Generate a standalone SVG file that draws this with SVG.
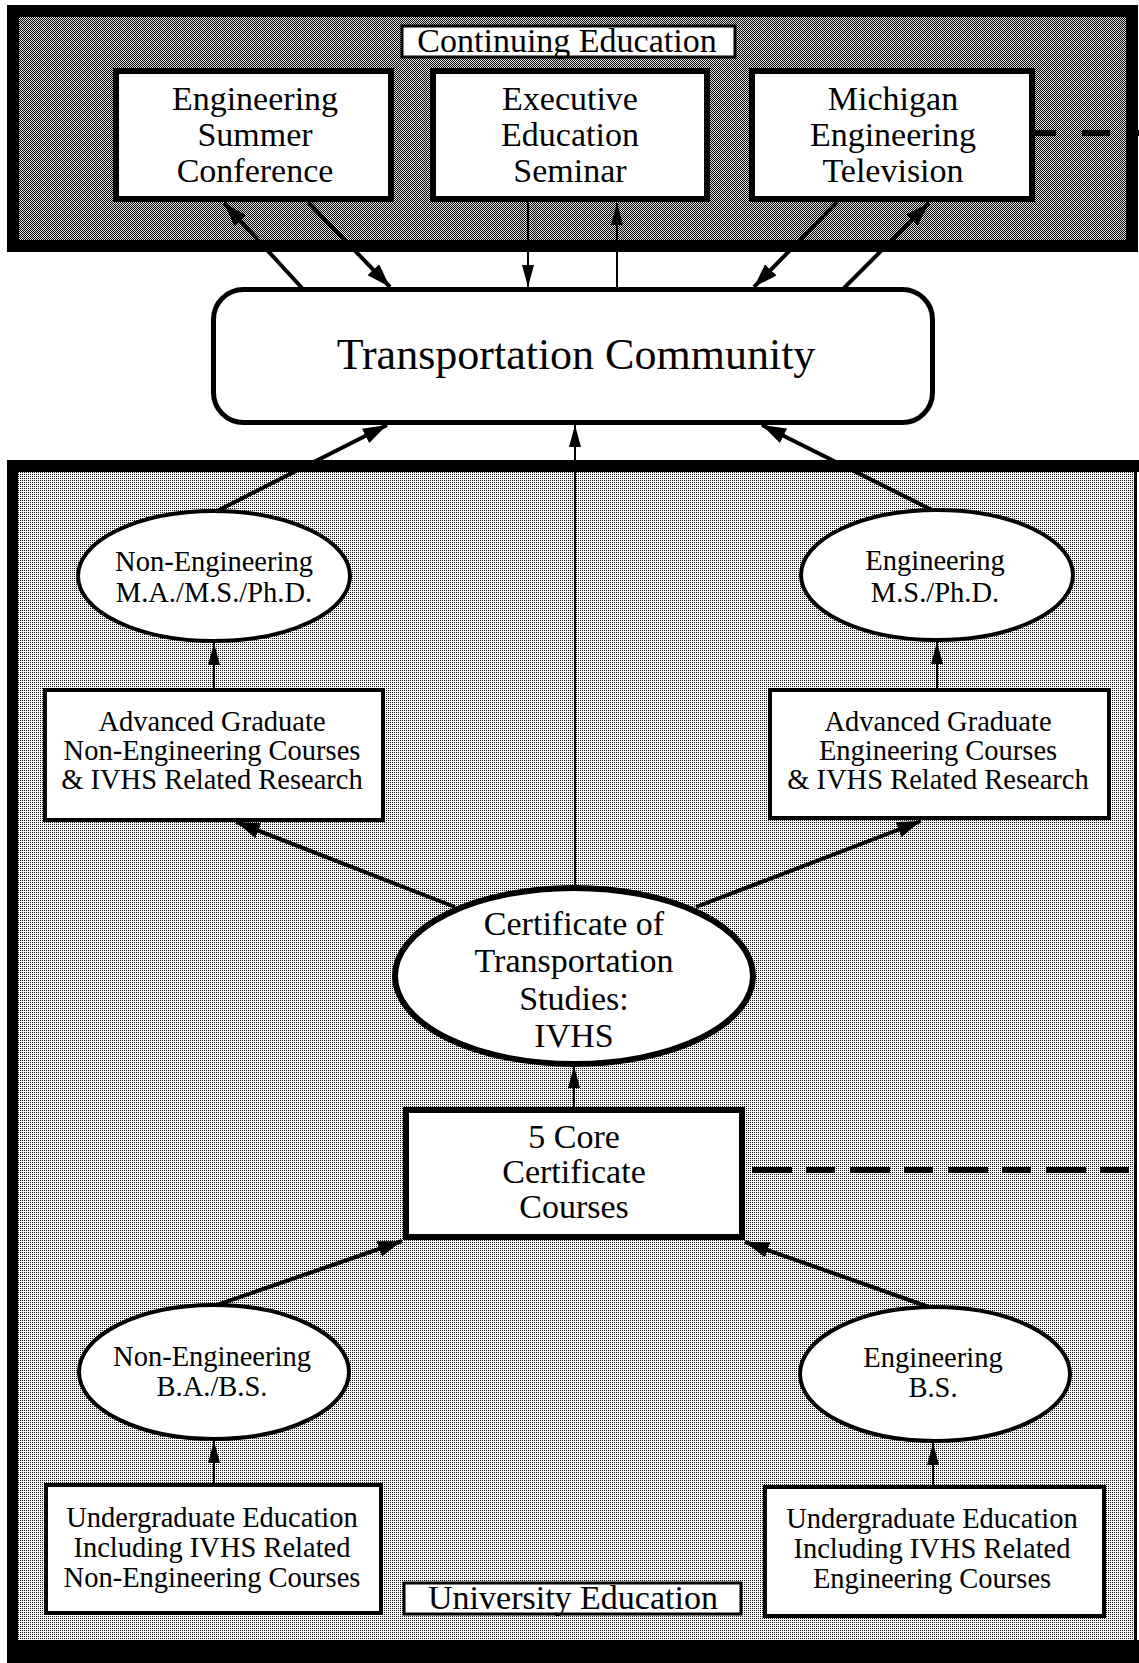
<svg xmlns="http://www.w3.org/2000/svg" width="1139" height="1663" viewBox="0 0 1139 1663">
<defs>
<pattern id="darkDither" patternUnits="userSpaceOnUse" x="0" y="0" width="2" height="2">
<rect width="2" height="2" fill="#e0e0e0"/>
<rect x="0" y="0" width="1" height="1" fill="#000"/>
<rect x="1" y="1" width="1" height="1" fill="#000"/>
</pattern>
<pattern id="lightDither" patternUnits="userSpaceOnUse" x="0" y="0" width="2" height="2">
<rect width="2" height="2" fill="#fff"/>
<rect x="0" y="0" width="1" height="1" fill="#111"/>
</pattern>
<marker id="headThick" markerUnits="userSpaceOnUse" markerWidth="26" markerHeight="18" refX="24" refY="8" orient="auto">
<path d="M0,0 L24,8 L0,16 z" fill="#000"/>
</marker>
<marker id="headThin" markerUnits="userSpaceOnUse" markerWidth="24" markerHeight="14" refX="22" refY="6" orient="auto">
<path d="M0,0 L22,6 L0,12 z" fill="#000"/>
</marker>
<style>
text { font-family: "Liberation Serif", "Times New Roman", serif; fill: #000; text-anchor: middle; }
.big { font-size: 34px; }
.mid { font-size: 28.5px; }
.lab { font-size: 34px; }
.box { fill: #fff; stroke: #000; }
.thickbox { stroke-width: 6; }
.thinbox { stroke-width: 4; }
.con { fill: none; stroke: #000; }
.thick { stroke-width: 4; marker-end: url(#headThick); }
.thin { stroke-width: 2; marker-end: url(#headThin); }
.dash { fill: none; stroke: #000; stroke-width: 6; }
</style>
</defs>

<g id="panel-continuing-education">
<rect x="13" y="11" width="1119" height="235" fill="url(#darkDither)" stroke="#000" stroke-width="12"/>
<rect x="402" y="26" width="333" height="31" fill="#fff" stroke="#000" stroke-width="3"/>
<text class="lab" x="567" y="52">Continuing Education</text>
</g>

<g id="panel-university-education">
<rect x="18" y="472" width="1117" height="1168" fill="url(#lightDither)"/>
<rect x="7" y="460" width="1132" height="12" fill="#000"/>
<rect x="7" y="460" width="11" height="1203" fill="#000"/>
<rect x="7" y="1640" width="1132" height="23" fill="#000"/>
<rect x="1134" y="460" width="3" height="1203" fill="#000"/>
</g>

<g id="node-summer-conference">
<rect class="box thickbox" x="116" y="71" width="275" height="128"/>
<text class="big" x="255" y="110">Engineering</text>
<text class="big" x="255" y="146">Summer</text>
<text class="big" x="255" y="182">Conference</text>
</g>

<g id="node-executive-seminar">
<rect class="box thickbox" x="433" y="71" width="274" height="128"/>
<text class="big" x="570" y="110">Executive</text>
<text class="big" x="570" y="146">Education</text>
<text class="big" x="570" y="182">Seminar</text>
</g>

<g id="node-michigan-tv">
<rect class="box thickbox" x="752" y="71" width="280" height="128"/>
<text class="big" x="893" y="110">Michigan</text>
<text class="big" x="893" y="146">Engineering</text>
<text class="big" x="893" y="182">Television</text>
</g>

<g id="node-transportation-community">
<rect class="box" x="213.5" y="289.5" width="719" height="133" rx="30" stroke-width="5"/>
<text x="576" y="369" font-size="44">Transportation Community</text>
</g>

<g id="node-nonengineering-grad">
<ellipse class="box thinbox" cx="214" cy="576" rx="136" ry="65"/>
<text class="mid" x="214" y="571">Non-Engineering</text>
<text class="mid" x="214" y="602">M.A./M.S./Ph.D.</text>
</g>

<g id="node-engineering-grad">
<ellipse class="box thinbox" cx="937" cy="575" rx="136" ry="65"/>
<text class="mid" x="935" y="570">Engineering</text>
<text class="mid" x="935" y="602">M.S./Ph.D.</text>
</g>

<g id="node-adv-nonengineering">
<rect class="box thinbox" x="45" y="690" width="338" height="130"/>
<text class="mid" x="212" y="731">Advanced Graduate</text>
<text class="mid" x="212" y="760">Non-Engineering Courses</text>
<text class="mid" x="212" y="789">&amp; IVHS Related Research</text>
</g>

<g id="node-adv-engineering">
<rect class="box thinbox" x="770" y="690" width="339" height="128"/>
<text class="mid" x="938" y="731">Advanced Graduate</text>
<text class="mid" x="938" y="760">Engineering Courses</text>
<text class="mid" x="938" y="789">&amp; IVHS Related Research</text>
</g>

<g id="node-certificate">
<ellipse class="box" cx="574" cy="976" rx="179" ry="88" stroke-width="6"/>
<text class="big" x="574" y="935">Certificate of</text>
<text class="big" x="574" y="972">Transportation</text>
<text class="big" x="574" y="1010">Studies:</text>
<text class="big" x="574" y="1047">IVHS</text>
</g>

<g id="node-core-courses">
<rect class="box thickbox" x="406" y="1110" width="336" height="127"/>
<text class="big" x="574" y="1148">5 Core</text>
<text class="big" x="574" y="1183">Certificate</text>
<text class="big" x="574" y="1218">Courses</text>
</g>

<g id="node-nonengineering-ba">
<ellipse class="box thinbox" cx="214" cy="1372" rx="135" ry="67"/>
<text class="mid" x="212" y="1366">Non-Engineering</text>
<text class="mid" x="212" y="1396">B.A./B.S.</text>
</g>

<g id="node-engineering-bs">
<ellipse class="box thinbox" cx="935" cy="1374" rx="135" ry="67"/>
<text class="mid" x="933" y="1367">Engineering</text>
<text class="mid" x="933" y="1397">B.S.</text>
</g>

<g id="node-undergrad-nonengineering">
<rect class="box thinbox" x="46" y="1485" width="335" height="128"/>
<text class="mid" x="212" y="1527">Undergraduate Education</text>
<text class="mid" x="212" y="1557">Including IVHS Related</text>
<text class="mid" x="212" y="1587">Non-Engineering Courses</text>
</g>

<g id="node-undergrad-engineering">
<rect class="box thinbox" x="765" y="1487" width="339" height="129"/>
<text class="mid" x="932" y="1528">Undergraduate Education</text>
<text class="mid" x="932" y="1558">Including IVHS Related</text>
<text class="mid" x="932" y="1588">Engineering Courses</text>
</g>

<g id="label-university-education">
<rect x="404" y="1583" width="337" height="31" fill="#fff" stroke="#000" stroke-width="3"/>
<text class="lab" x="573" y="1609">University Education</text>
</g>

<g id="connectors">
<line class="con thick" x1="302" y1="288" x2="224" y2="203"/>
<line class="con thick" x1="308" y1="202" x2="390" y2="287"/>
<line class="con thin" x1="528" y1="202" x2="528" y2="287"/>
<line class="con thin" x1="617" y1="287" x2="617" y2="203"/>
<line class="con thick" x1="837" y1="202" x2="754" y2="287"/>
<line class="con thick" x1="844" y1="288" x2="929" y2="203"/>
<line class="dash" x1="1035" y1="133" x2="1139" y2="133" stroke-dasharray="21 26 28 24 28"/>
<line class="con thick" x1="217" y1="511" x2="387" y2="425"/>
<line class="con thick" x1="932" y1="510" x2="762" y2="425"/>
<line class="con thin" x1="575" y1="888" x2="575" y2="425"/>
<line class="con thin" x1="214" y1="688" x2="214" y2="643"/>
<line class="con thin" x1="937" y1="688" x2="937" y2="642"/>
<line class="con thick" x1="455" y1="907" x2="236" y2="822"/>
<line class="con thick" x1="696" y1="907" x2="921" y2="821"/>
<line class="con thin" x1="574" y1="1107" x2="574" y2="1066"/>
<line class="dash" x1="752" y1="1170" x2="1134" y2="1170" stroke-dasharray="40 14 29 15"/>
<line class="con thick" x1="217" y1="1305" x2="402" y2="1241"/>
<line class="con thick" x1="929" y1="1307" x2="745" y2="1242"/>
<line class="con thin" x1="214" y1="1483" x2="214" y2="1441"/>
<line class="con thin" x1="933" y1="1485" x2="933" y2="1443"/>
</g>
</svg>
